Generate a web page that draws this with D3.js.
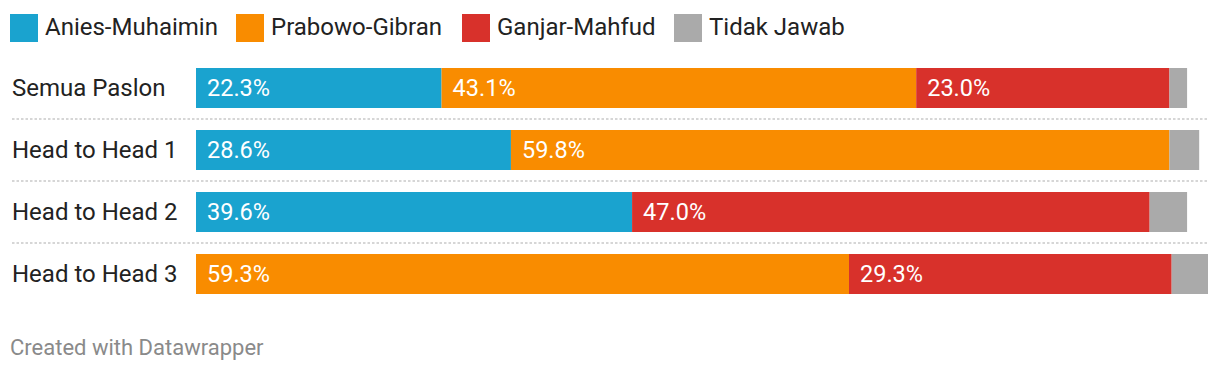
<!DOCTYPE html>
<html>
<head>
<meta charset="utf-8">
<script src="https://cdn.jsdelivr.net/npm/d3@7"></script>
<style>
body { margin: 0; background: #fff; }
svg { display: block; font-family: Roboto, sans-serif; }
</style>
</head>
<body>
<svg id="chart" width="1220" height="372"></svg>
<script>
var ROWS = ["Semua Paslon", "Head to Head 1", "Head to Head 2", "Head to Head 3"];
var SERIES = ["Anies-Muhaimin", "Prabowo-Gibran", "Ganjar-Mahfud", "Tidak Jawab"];
var COLORS = ["#1aa3cf", "#f98c00", "#d8312b", "#aaaaaa"];
var ANIES = [22.3, 28.6, 39.6, 0];
var PRABOWO = [43.1, 59.8, 0, 59.3];
var GANJAR = [23.0, 0, 47.0, 29.3];
var TIDAK = [1.6, 2.7, 3.4, 3.3];
var LABELLED = [true, true, true, false];

var svg = d3.select("#chart");
var values = [ANIES, PRABOWO, GANJAR, TIDAK];

var table = ROWS.map(function(r, i) {
    var row = {name: r};
    SERIES.forEach(function(s, j) { row[s] = values[j][i]; });
    return row;
});
var stacked = d3.stack().keys(SERIES)(table);
var maxTotal = d3.max(table, function(d) {
    return d3.sum(SERIES, function(s) { return d[s]; });
});

var x = d3.scaleLinear().domain([0, maxTotal]).range([196, 1208]);
var y = d3.scaleBand().domain(ROWS).range([68, 68 + 62 * ROWS.length - 22]).paddingInner(22 / 62).paddingOuter(0);

// legend
var lx = [10, 236, 462, 674];
var leg = svg.append("g").selectAll("g").data(SERIES).enter().append("g")
    .attr("transform", function(d, i) { return "translate(" + lx[i] + ",14)"; });
leg.append("rect").attr("width", 28).attr("height", 28)
    .attr("fill", function(d, i) { return COLORS[i]; });
leg.append("text").attr("x", 35).attr("y", 13).attr("dy", "0.35em")
    .attr("font-size", 24).attr("fill", "#222").text(function(d) { return d; });

// separators
svg.append("g").selectAll("line").data(ROWS.slice(1)).enter().append("line")
    .attr("x1", 12).attr("x2", 1208)
    .attr("y1", function(d) { return y(d) - 11; })
    .attr("y2", function(d) { return y(d) - 11; })
    .attr("stroke", "#d6d6d6").attr("stroke-width", 2).attr("stroke-dasharray", "2.5,2");

// row labels
svg.append("g").selectAll("text").data(ROWS).enter().append("text")
    .attr("x", 12).attr("y", function(d) { return y(d) + y.bandwidth() / 2; })
    .attr("dy", "0.35em").attr("font-size", 24).attr("fill", "#222")
    .text(function(d) { return d; });

// bars
var layer = svg.append("g").selectAll("g").data(stacked).enter().append("g")
    .attr("fill", function(d, i) { return COLORS[i]; });
layer.selectAll("rect").data(function(d) { return d; }).enter().append("rect")
    .filter(function(d) { return d[1] > d[0]; })
    .attr("x", function(d) { return x(d[0]); })
    .attr("y", function(d) { return y(d.data.name); })
    .attr("width", function(d) { return x(d[1]) - x(d[0]); })
    .attr("height", y.bandwidth());

// value labels
stacked.forEach(function(s, i) {
    if (!LABELLED[i]) return;
    svg.append("g").selectAll("text").data(s.filter(function(d) { return d[1] > d[0]; }))
        .enter().append("text")
        .attr("x", function(d) { return x(d[0]) + 11; })
        .attr("y", function(d) { return y(d.data.name) + y.bandwidth() / 2; })
        .attr("dy", "0.35em").attr("font-size", 23.5).attr("fill", "#fff")
        .text(function(d) { return (d[1] - d[0]).toFixed(1) + "%"; });
});

svg.append("text").attr("x", 10).attr("y", 347).attr("dy", "0.35em")
    .attr("font-size", 22).attr("fill", "#8a8a8a").text("Created with Datawrapper");
</script>
</body>
</html>
